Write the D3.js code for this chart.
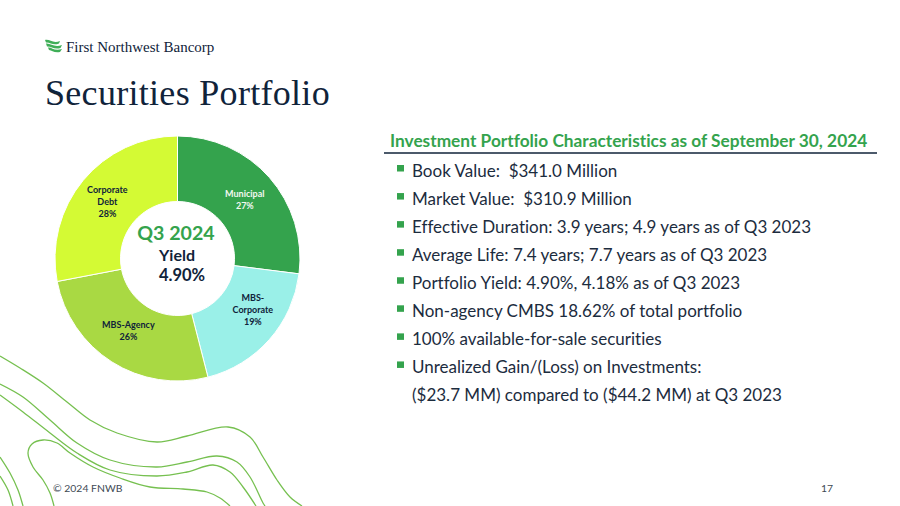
<!DOCTYPE html>
<html>
<head>
<meta charset="utf-8">
<script src="https://cdn.jsdelivr.net/npm/d3@7"></script>
<style>
    html, body { margin: 0; padding: 0; background: #fff; }
    svg { display: block; }
    text { font-family: Lato, sans-serif; font-variant-ligatures: none; }
    .serif { font-family: "Liberation Serif", serif; }
</style>
</head>
<body>
<script>
var categories = ['Municipal', 'MBS-Corporate', 'MBS-Agency', 'Corporate Debt'];
var shares = [27, 19, 26, 28];
var labelLines = [['Municipal'], ['MBS-', 'Corporate'], ['MBS-Agency'], ['Corporate', 'Debt']];
var sliceColors = ['#34a34d', '#9af0e8', '#a9d943', '#d4fa34'];
var labelColors = ['#f2f8f0', '#10233a', '#10233a', '#10233a'];

var characteristics = [
    'Book Value:  $341.0 Million',
    'Market Value:  $310.9 Million',
    'Effective Duration: 3.9 years; 4.9 years as of Q3 2023',
    'Average Life: 7.4 years; 7.7 years as of Q3 2023',
    'Portfolio Yield: 4.90%, 4.18% as of Q3 2023',
    'Non-agency CMBS 18.62% of total portfolio',
    '100% available-for-sale securities',
    'Unrealized Gain/(Loss) on Investments:'
];
var continuation = '($23.7 MM) compared to ($44.2 MM) at Q3 2023';

// background contour lines
var contours = [
    [[0,356],[20,368],[43,383],[67,402],[90,420],[117,433],[157,442],[187,436],[228,427],[250,437],[263,457],[277,480],[290,497],[302,506]],
    [[0,384],[23,397],[50,420],[77,443],[110,460],[157,467],[187,462],[217,456],[237,462],[250,477],[263,503],[265,506]],
    [[0,395],[23,412],[50,433],[77,453],[110,470],[157,476],[187,472],[213,465],[230,472],[243,487],[256,506]],
    [[54,506],[50,493],[43,480],[33,467],[28,453],[32,444],[43,440],[57,443],[70,453],[93,467],[120,478],[150,487],[183,489],[207,492],[220,498],[230,506]],
    [[0,457],[10,473],[18,490],[23,506]],
    [[0,476],[8,490],[13,506]]
];

var width = 900, height = 506;
var dark = '#10233a', green = '#34a34d';

var svg = d3.select('body').append('svg')
    .attr('width', width)
    .attr('height', height);

var contourLine = d3.line().curve(d3.curveCatmullRom.alpha(0.5));

svg.append('g').selectAll('path')
    .data(contours)
    .enter().append('path')
    .attr('d', contourLine)
    .attr('fill', 'none')
    .attr('stroke', '#76c050')
    .attr('stroke-width', 1.3);

// logo
var logo = svg.append('g').attr('transform', 'translate(45,40)');
['M0,0 C5,-1 8,4 15,1 L14,3.5 C8,6 5,2 1,2.5 Z',
 'M1,3.5 C6,3 9,8 17,5 L15.5,8 C9,10 6,6 2,6.5 Z',
 'M3,7.5 C7,7 9,11.5 17,9 L15,12 C9,13 7,10.5 4,10 Z'].forEach(function(d) {
    logo.append('path').attr('d', d).attr('fill', '#3fae57');
});

svg.append('text')
    .attr('class', 'serif')
    .attr('x', 66).attr('y', 51.5)
    .attr('font-size', 15)
    .attr('fill', dark)
    .text('First Northwest Bancorp');

svg.append('text')
    .attr('class', 'serif')
    .attr('x', 45).attr('y', 105)
    .attr('font-size', 36)
    .attr('letter-spacing', 0.3)
    .attr('fill', dark)
    .text('Securities Portfolio');

// donut
var cx = 177.5, cy = 258.5, outer = 122.5, inner = 57;
var pie = d3.pie().sort(null)(shares);
var arc = d3.arc().innerRadius(inner).outerRadius(outer);

var donut = svg.append('g').attr('transform', 'translate(' + cx + ',' + cy + ')');

donut.selectAll('path')
    .data(pie)
    .enter().append('path')
    .attr('d', arc)
    .attr('fill', function(d, i) { return sliceColors[i]; })
    .attr('stroke', '#fff')
    .attr('stroke-width', 1);

// labels sit a little off their centroids on the slide
var labelNudgeX = [0, 8, -1, -1];
var labelNudgeY = [1, -8, -3, 1];

var labels = donut.selectAll('text.slice-label')
    .data(pie)
    .enter().append('text')
    .attr('class', 'slice-label')
    .attr('transform', function(d, i) {
        var c = arc.centroid(d);
        return 'translate(' + (c[0] + labelNudgeX[i]) + ',' + (c[1] + labelNudgeY[i]) + ')';
    })
    .attr('text-anchor', 'middle')
    .attr('font-size', 9)
    .attr('font-weight', 700)
    .attr('fill', function(d, i) { return labelColors[i]; });

labels.each(function(d, i) {
    var lines = labelLines[i].concat([shares[i] + '%']);
    d3.select(this).selectAll('tspan')
        .data(lines)
        .enter().append('tspan')
        .attr('x', 0)
        .attr('y', function(l, j) { return (j - (lines.length - 1) / 2) * 12 + 3; })
        .text(function(l) { return l; });
});

svg.append('text').attr('x', 176).attr('y', 240).attr('text-anchor', 'middle')
    .attr('font-size', 19.6).attr('font-weight', 700).attr('fill', green).text('Q3 2024');
svg.append('text').attr('x', 177).attr('y', 261).attr('text-anchor', 'middle')
    .attr('font-size', 16).attr('font-weight', 700).attr('fill', dark).text('Yield');
svg.append('text').attr('x', 182).attr('y', 281).attr('text-anchor', 'middle')
    .attr('font-size', 16.5).attr('font-weight', 700).attr('fill', dark).text('4.90%');

// characteristics panel
svg.append('text')
    .attr('x', 390).attr('y', 147)
    .attr('font-size', 17.3)
    .attr('font-weight', 700)
    .attr('fill', green)
    .text('Investment Portfolio Characteristics as of September 30, 2024');

svg.append('line')
    .attr('x1', 384).attr('x2', 877)
    .attr('y1', 153).attr('y2', 153)
    .attr('stroke', dark)
    .attr('stroke-width', 1.4);

var rowY = d3.scalePoint()
    .domain(d3.range(characteristics.length + 1))
    .range([176.5, 401]);

var rows = svg.append('g').selectAll('g')
    .data(characteristics)
    .enter().append('g');

rows.append('rect')
    .attr('x', 397)
    .attr('y', function(d, i) { return rowY(i) - 11.5; })
    .attr('width', 7)
    .attr('height', 6.5)
    .attr('fill', green);

rows.append('text')
    .attr('x', 412)
    .attr('y', function(d, i) { return rowY(i); })
    .attr('font-size', 17)
    .attr('fill', '#1c2c3e')
    .style('white-space', 'pre')
    .text(function(d) { return d; });

svg.append('text')
    .attr('x', 412)
    .attr('y', rowY(characteristics.length))
    .attr('font-size', 17)
    .attr('fill', '#1c2c3e')
    .text(continuation);

// footer
svg.append('text').attr('x', 53).attr('y', 492)
    .attr('font-size', 10.4).attr('fill', '#404a55').text('© 2024 FNWB');
svg.append('text').attr('x', 833).attr('y', 492).attr('text-anchor', 'end')
    .attr('font-size', 10.4).attr('fill', '#404a55').text('17');
</script>
</body>
</html>
